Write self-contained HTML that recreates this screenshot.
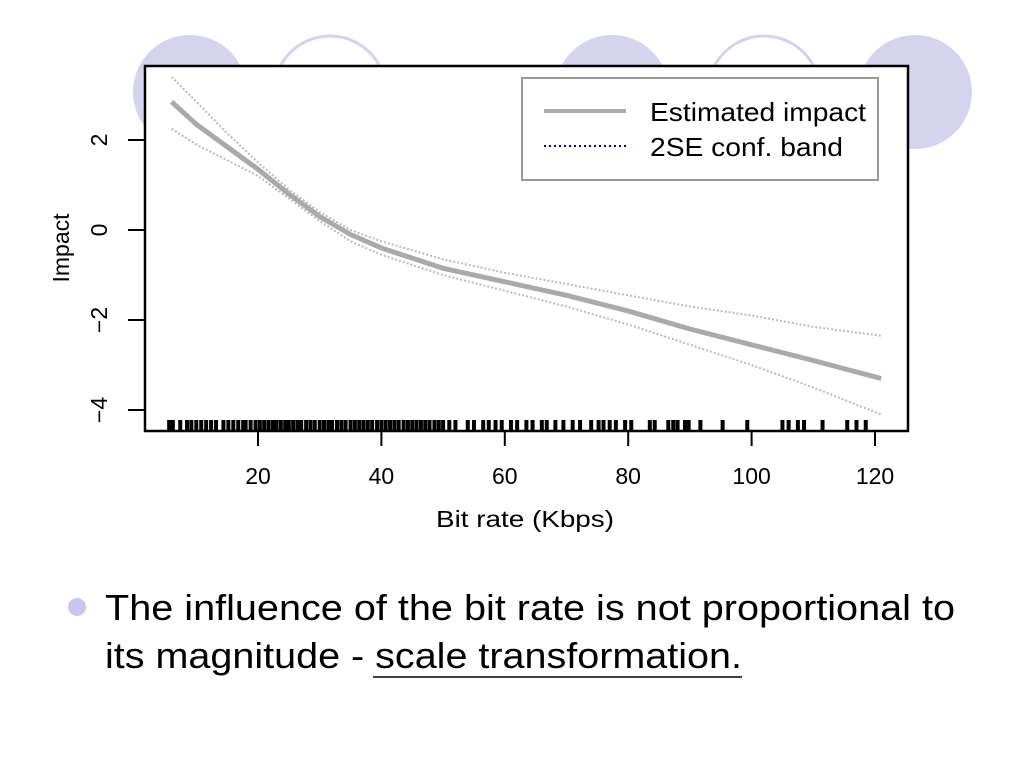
<!DOCTYPE html>
<html><head><meta charset="utf-8"><style>
body{margin:0;width:1024px;height:768px;background:#fff;overflow:hidden;font-family:"Liberation Sans",sans-serif}
</style></head><body>
<svg width="1024" height="768" style="position:absolute;left:0;top:0">
<g>
<circle cx="190" cy="92" r="57" fill="#d4d4ee"/>
<circle cx="330" cy="92" r="56" fill="#fff" stroke="#d4d4ee" stroke-width="3"/>
<circle cx="612" cy="92" r="57" fill="#d4d4ee"/>
<circle cx="764" cy="92" r="56" fill="#fff" stroke="#d4d4ee" stroke-width="3"/>
<circle cx="915" cy="92" r="57" fill="#d4d4ee"/>
</g>
<rect x="145" y="66" width="763" height="365" fill="#fff" stroke="#000" stroke-width="2.5"/>
<g id="chart"></g>
<g>
<rect x="522" y="78" width="356" height="102" fill="#fff" stroke="#999" stroke-width="2"/>
<line x1="544" y1="111" x2="626" y2="111" stroke="#aaa" stroke-width="4"/>
<line x1="544" y1="146" x2="626" y2="146" stroke="#00a" stroke-width="2" stroke-dasharray="2,3"/>
<text x="650" y="121" font-size="26" textLength="216" lengthAdjust="spacingAndGlyphs">Estimated impact</text>
<text x="650" y="156" font-size="26" textLength="193" lengthAdjust="spacingAndGlyphs">2SE conf. band</text>
</g>
<text x="436" y="527" font-size="23" textLength="178" lengthAdjust="spacingAndGlyphs">Bit rate (Kbps)</text>
<text transform="translate(69,248) rotate(-90)" font-size="23" text-anchor="middle">Impact</text>
<circle cx="77" cy="607" r="9" fill="#c8c8ee"/>
<text x="105" y="620" font-size="36" textLength="850" lengthAdjust="spacingAndGlyphs">The influence of the bit rate is not proportional to</text>
<text x="105" y="668" font-size="36" textLength="637" lengthAdjust="spacingAndGlyphs">its magnitude - scale transformation.</text>
<line x1="373" y1="677" x2="742" y2="677" stroke="#000" stroke-width="1.5"/>
</svg>
<script>
const xs=[6,10,15,20,25,30,35,40,50,60,70,80,90,100,110,121];
const est=[2.85,2.35,1.85,1.35,0.8,0.3,-0.1,-0.4,-0.85,-1.15,-1.45,-1.8,-2.2,-2.55,-2.9,-3.3];
const upper=[3.4,2.85,2.15,1.5,0.9,0.4,0,-0.25,-0.65,-0.95,-1.2,-1.45,-1.7,-1.9,-2.15,-2.35];
const lower=[2.25,1.9,1.55,1.2,0.7,0.2,-0.25,-0.55,-1.0,-1.35,-1.7,-2.1,-2.55,-3.0,-3.5,-4.1];
const xTicks=[20,40,60,80,100,120];
const yTicks=[2,0,-2,-4];
const rug=[5.6,6.2,7.4,8.5,9.2,10,10.8,11.6,12.4,13.2,14.4,15.2,16,16.8,17.6,18,18.8,19.6,20.3,21,21.7,22.4,23,23.7,24.4,25,25.7,26.4,27,27.8,28.5,29.2,30,30.7,31.4,32,32.8,33.5,34.2,35,35.7,36.4,37.1,37.8,38.5,39.3,40,40.7,41.4,42.1,42.8,43.6,44.3,45,45.7,46.4,47.1,47.8,48.6,49.3,50,51,52,54,55,56.5,57.4,58.5,59.5,61,62,63.5,64.5,66,66.8,68.2,69.5,71,72.2,74,75.2,76,77,78,79.5,80.5,83.5,84.3,86.5,87.3,88,89.2,89.8,91.7,95.3,99.3,105,106,107.5,108.5,111.5,115.5,117,118.5];
const X=v=>258+(v-20)*6.17, Y=v=>230-v*45;
const g=document.getElementById('chart');const NS='http://www.w3.org/2000/svg';
function mk(t,a){const e=document.createElementNS(NS,t);for(const k in a)e.setAttribute(k,a[k]);g.appendChild(e);return e;}
function path(vals){let d='';xs.forEach((x,i)=>{d+=(i?'L':'M')+X(x).toFixed(1)+','+Y(vals[i]).toFixed(1);});return d;}
let e;
e=mk('path',{d:path(upper),fill:'none',stroke:'#bbb','stroke-width':2,'stroke-dasharray':'2,2'});


e=mk('path',{d:path(lower),fill:'none',stroke:'#bbb','stroke-width':2,'stroke-dasharray':'2,2'});


e=mk('path',{d:path(est),fill:'none',stroke:'#aaa','stroke-width':5,'stroke-linejoin':'round'});


rug.forEach(v=>{const r=mk('line',{x1:X(v),x2:X(v),y1:420,y2:431,stroke:'#000','stroke-width':4});

});
xTicks.forEach(v=>{const t=mk('line',{x1:X(v),x2:X(v),y1:431,y2:446,stroke:'#000','stroke-width':2});


const l=mk('text',{x:X(v),y:484,'font-size':23,'text-anchor':'middle'});l.textContent=v;

});
yTicks.forEach(v=>{const t=mk('line',{x1:128,x2:145,y1:Y(v),y2:Y(v),stroke:'#000','stroke-width':2});


const l=mk('text',{transform:`translate(107,${Y(v)}) rotate(-90)`,'font-size':23,'text-anchor':'middle'});l.textContent=v<0?'\u2212'+(-v):v;

});
</script>
</body></html>
